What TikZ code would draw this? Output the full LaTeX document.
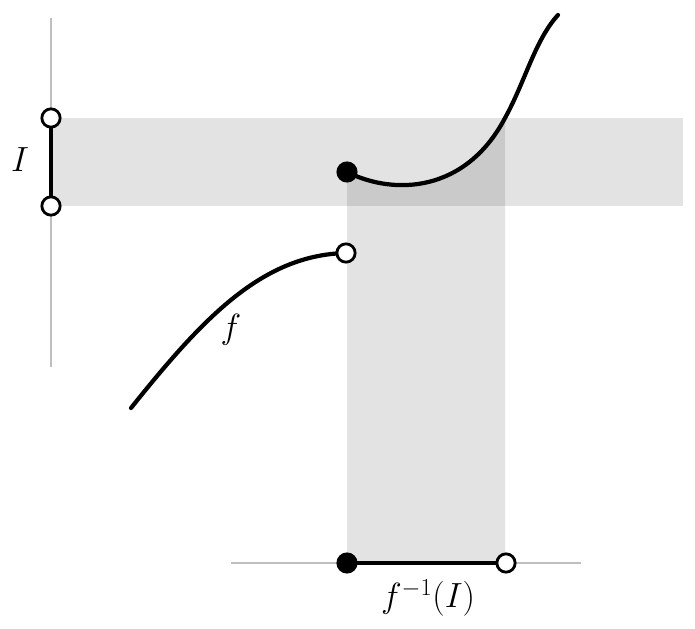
\documentclass[tikz,border=0pt]{standalone}
\usepackage{amsmath}
\usepackage{tikz}
\usetikzlibrary{backgrounds}
\tikzstyle{band}=[fill=black,fill opacity=0.11,draw=none]
\tikzstyle{axis}=[draw=black!25,line width=1.3pt]
\tikzstyle{graph}=[line width=3pt,line cap=round]
\tikzstyle{dot}=[circle,draw=black,line width=2pt,minimum size=13pt,inner sep=0pt]
\tikzstyle{opendot}+=[dot,fill=white]
\tikzstyle{shutdot}+=[dot,fill=black]
\tikzstyle{lbl}=[font=\fontsize{27}{32}\selectfont]
\def\upbend{.. controls (395,196) and (466,192) .. (505,118)}

\begin{document}
\begin{tikzpicture}[x=0.025cm,y=-0.025cm]
    \useasboundingbox (0,0) rectangle (695,629);
    % shaded strips
    \path[band] (51,118) rectangle (683,206);
    \path[band] (347,563) -- (347,172) \upbend -- (505,563) -- cycle;
    % axes
    \draw[axis] (51,18) coordinate (ytop) -- (51,367) coordinate (ybot);
    \draw[axis] (231,563) coordinate (xleft) -- (581,563) coordinate (xright);
    % endpoints
    \coordinate (lowstart) at (131,408);
    \coordinate (upend) at (558,15);
    \coordinate (upstart) at (347,172);
    \draw[graph] (lowstart) .. controls (203,318) and (262,255) .. (346,253) coordinate (lowend);
    \draw[graph] (upstart) \upbend .. controls (525,82) and (535,40) .. (upend);
    \node[opendot] (Itop) at (51,118) {};
    \node[opendot] (Ibot) at (51,206) {};
    \node[shutdot] (preA) at (347,563) {};
    \node[opendot] (preB) at (506,563) {};
    \node[opendot] (gap) at (lowend) {};
    \node[shutdot] (jump) at (upstart) {};
    \draw[graph] (Itop) -- (Ibot);
    \draw[graph] (preA) -- (preB);
    % labels
    \node[lbl] (Ilabel) at (20,160) {$I$};
    \node[lbl] (flabel) at (231,330) {$f$};
    \node[lbl] (prelabel) at (428,598) {$f^{-1}(I)$};
\end{tikzpicture}
\end{document}
